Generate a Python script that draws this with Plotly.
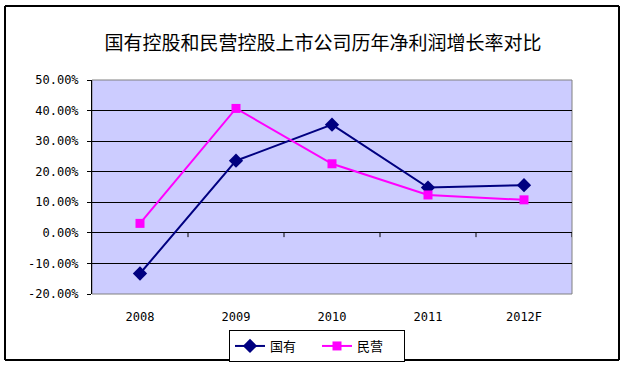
import plotly.graph_objects as go

categories = ["2008", "2009", "2010", "2011", "2012F"]
guoyou = [-13.3, 23.6, 35.4, 14.8, 15.6]
minying = [3.1, 40.7, 22.6, 12.4, 10.8]
y_ticks = [-20, -10, 0, 10, 20, 30, 40, 50]
y_tick_labels = ["%.2f%%" % v for v in y_ticks]

W, H = 626, 366
L, R, T, B = 92, 54, 80, 72
PW, PH = W - L - R, H - T - B

fig = go.Figure()
fig.add_trace(go.Scatter(
    x=list(range(len(categories))), y=guoyou, name="国有", mode="lines+markers",
    line=dict(color="#000080", width=2),
    marker=dict(symbol="diamond", size=11, color="#000080"),
))
fig.add_trace(go.Scatter(
    x=list(range(len(categories))), y=minying, name="民营", mode="lines+markers",
    line=dict(color="#FF00FF", width=2),
    marker=dict(symbol="square", size=9, color="#FF00FF"),
))

bx0, bx1 = (5 - L) / PW, (619 - L) / PW
by0, by1 = (H - B - 360) / PH, (H - B - 6) / PH
border = dict(color="black", width=2)
shapes = [
    dict(type="rect", xref="paper", yref="paper", x0=0, x1=1, y0=0, y1=1,
         line=dict(color="#808080", width=1), layer="below"),
    dict(type="line", xref="paper", yref="paper", x0=bx0, x1=bx1, y0=by1, y1=by1, line=border),
    dict(type="line", xref="paper", yref="paper", x0=bx1, x1=bx1, y0=by0, y1=by1, line=border),
    dict(type="line", xref="paper", yref="paper", x0=bx0, x1=bx1, y0=by0, y1=by0, line=border),
    dict(type="line", xref="paper", yref="paper", x0=bx0, x1=bx0, y0=by0, y1=by1, line=border),
]
for i in range(1, len(categories) + 1):
    shapes.append(dict(type="line", xref="x", yref="y", x0=i - 0.5, x1=i - 0.5,
                       y0=0, y1=-1.4, line=dict(color="black", width=1)))

fig.update_layout(
    width=W, height=H,
    margin=dict(l=L, r=R, t=T, b=B, autoexpand=False),
    paper_bgcolor="white",
    plot_bgcolor="#CCCCFF",
    title=dict(text="国有控股和民营控股上市公司历年净利润增长率对比",
               x=323 / W, xanchor="center", y=1 - 43 / H, yanchor="middle",
               font=dict(family="Noto Sans CJK SC", size=19, color="black")),
    xaxis=dict(range=[-0.5, len(categories) - 0.5],
               tickvals=list(range(len(categories))), ticktext=categories,
               showgrid=False, zeroline=False, showline=False, ticks="",
               ticklabelstandoff=14,
               tickfont=dict(family="DejaVu Sans Mono", size=12, color="black")),
    yaxis=dict(range=[-20, 50], tickvals=y_ticks, ticktext=y_tick_labels,
               showgrid=True, gridcolor="black", gridwidth=1,
               zeroline=True, zerolinecolor="black", zerolinewidth=1,
               showline=True, linecolor="black", linewidth=1,
               ticks="outside", ticklen=4, tickcolor="black",
               ticklabelstandoff=6,
               tickfont=dict(family="DejaVu Sans Mono", size=12, color="black")),
    shapes=shapes,
    showlegend=True,
    legend=dict(orientation="h", x=(317 - L) / PW, xanchor="center",
                y=(H - B - 330) / PH, yanchor="top",
                bordercolor="black", borderwidth=1, bgcolor="white",
                font=dict(family="Noto Sans CJK SC", size=13, color="black"),
                itemwidth=30, entrywidth=42, entrywidthmode="pixels"),
)

fig.write_html("out.html", config={"displayModeBar": False},
               post_script="document.body.style.margin='0';document.body.style.overflow='hidden';")
